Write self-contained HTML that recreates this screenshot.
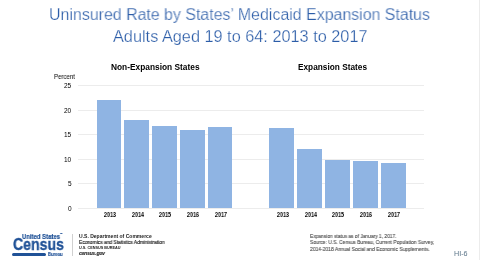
<!DOCTYPE html>
<html><head><meta charset="utf-8">
<style>
html,body{margin:0;padding:0;background:#fff;}
body{width:480px;height:260px;position:relative;overflow:hidden;font-family:"Liberation Sans",sans-serif;}
.a{position:absolute;white-space:nowrap;line-height:1;will-change:transform;}
.s{transform-origin:0 0;}
.title{color:#2C5DA8;font-size:15px;-webkit-text-stroke:0.25px #fff;}
.sub{font-weight:bold;color:#000;font-size:8px;}
.ax{color:#000;font-size:6.42px;}
.yl{right:408.4px;font-size:6.5px;margin-top:1px;}
.xl{font-weight:bold;color:#000;font-size:6.42px;top:211.86px;width:40px;text-align:center;transform:scaleX(0.84);}
.grid{position:absolute;left:78px;width:346px;height:1px;background:#ECECEC;}
.bar{position:absolute;background:#8FB4E3;}
.dept{color:#1a1a1a;}
.foot{color:#4a4a4a;font-size:5px;}
</style></head>
<body>
<div class="a s title" id="t1" style="left:48.86px;top:7.1px;font-size:16px;transform:scaleX(0.9954);">Uninsured Rate by States’ Medicaid Expansion Status</div>
<div class="a s title" id="t2" style="left:112.95px;top:28.5px;font-size:16px;transform:scaleX(1.0181);">Adults Aged 19 to 64: 2013 to 2017</div>

<div class="a s sub" id="s1" style="left:111.0px;top:63.6px;font-size:8.17px;transform:scaleX(1.023);">Non-Expansion States</div>
<div class="a s sub" id="s2" style="left:297.5px;top:63.6px;font-size:8.17px;transform:scaleX(1.0147);">Expansion States</div>

<div class="a s ax" id="pc" style="left:54.44px;top:73.56px;font-size:6.42px;transform:scaleX(0.9477);">Percent</div>

<div class="grid" style="top:85px"></div>
<div class="grid" style="top:110px"></div>
<div class="grid" style="top:134px"></div>
<div class="grid" style="top:159px"></div>
<div class="grid" style="top:183px"></div>
<div class="grid" style="top:208px"></div>

<div class="a ax yl" style="top:82.25px;">25</div>
<div class="a ax yl" style="top:106.75px;">20</div>
<div class="a ax yl" style="top:131.25px;">15</div>
<div class="a ax yl" style="top:155.75px;">10</div>
<div class="a ax yl" style="top:180.25px;">5</div>
<div class="a ax yl" style="top:205.25px;">0</div>

<div class="bar" style="left:96.5px;width:24.5px;top:100px;height:108px"></div>
<div class="bar" style="left:124.4px;width:24.6px;top:119.7px;height:88.3px"></div>
<div class="bar" style="left:152.2px;width:24.7px;top:125.6px;height:82.4px"></div>
<div class="bar" style="left:180px;width:24.7px;top:129.7px;height:78.3px"></div>
<div class="bar" style="left:207.8px;width:24.7px;top:126.6px;height:81.4px"></div>

<div class="bar" style="left:269.3px;width:25px;top:127.8px;height:80.2px"></div>
<div class="bar" style="left:297.3px;width:25px;top:149px;height:59px"></div>
<div class="bar" style="left:324.8px;width:25.4px;top:159.6px;height:48.4px"></div>
<div class="bar" style="left:352.8px;width:24.9px;top:161.2px;height:46.8px"></div>
<div class="bar" style="left:380.7px;width:25px;top:162.5px;height:45.5px"></div>

<div class="a xl" style="left:89.50px;">2013</div>
<div class="a xl" style="left:117.50px;">2014</div>
<div class="a xl" style="left:145.30px;">2015</div>
<div class="a xl" style="left:173.20px;">2016</div>
<div class="a xl" style="left:201.00px;">2017</div>
<div class="a xl" style="left:262.60px;">2013</div>
<div class="a xl" style="left:290.60px;">2014</div>
<div class="a xl" style="left:318.30px;">2015</div>
<div class="a xl" style="left:346.10px;">2016</div>
<div class="a xl" style="left:374.00px;">2017</div>

<!-- logo -->
<div class="a s" id="us" style="left:22.17px;top:233.0px;font-weight:bold;font-size:7.33px;color:#205297;-webkit-text-stroke:0.2px #205297;transform:scaleX(0.812);">United States<span style="font-size:3px;vertical-align:top">™</span></div>
<div class="a s" id="cen" style="left:12.53px;top:237.0px;font-weight:bold;font-size:16px;color:#205297;-webkit-text-stroke:0.35px #205297;transform:scaleX(0.8793);">Census</div>
<div class="a" style="left:12px;top:252.5px;width:34px;height:3px;border-radius:1.5px;background:#205297;"></div>
<div class="a s" id="bur" style="left:48.37px;top:252.12px;font-weight:bold;font-size:5.24px;color:#205297;-webkit-text-stroke:0.15px #205297;transform:scaleX(0.8139);">Bureau</div>

<div class="a" style="left:72px;top:233.5px;width:1px;height:22px;background:#D0D0D0;"></div>
<div class="a s dept" id="d1" style="left:79.0px;top:234.76px;font-weight:bold;font-size:4.89px;transform:scaleX(1.0321);">U.S. Department of Commerce</div>
<div class="a s dept" id="d2" style="left:79.0px;top:239.98px;font-size:5.1px;-webkit-text-stroke:0.15px #1a1a1a;transform:scaleX(0.9511);">Economics and Statistics Administration</div>
<div class="a s dept" id="d3" style="left:79.0px;top:247.1px;font-size:3.8px;font-weight:bold;transform:scaleX(0.9905);">U.S. CENSUS BUREAU</div>
<div class="a s dept" id="d4" style="left:79.0px;top:251.15px;font-weight:bold;font-style:italic;font-size:5.49px;-webkit-text-stroke:0.15px #1a1a1a;transform:scaleX(0.8583);">census.gov</div>

<div class="a s foot" id="f1" style="left:310.0px;top:233.57px;font-size:5.2px;-webkit-text-stroke:0.1px #4a4a4a;transform:scaleX(0.9375);">Expansion status as of January 1, 2017.</div>
<div class="a s foot" id="f2" style="left:310.0px;top:240.22px;font-size:5.2px;-webkit-text-stroke:0.1px #4a4a4a;transform:scaleX(0.9447);">Source: U.S. Census Bureau, Current Population Survey,</div>
<div class="a s foot" id="f3" style="left:310.0px;top:247.22px;font-size:5.2px;-webkit-text-stroke:0.1px #4a4a4a;transform:scaleX(0.9552);">2014-2018 Annual Social and Economic Supplements.</div>

<div class="a s" id="hi" style="left:454.0px;top:250.93px;font-size:6.63px;color:#5A7488;transform:scaleX(1.0833);">HI-6</div>

<div class="a" style="left:479px;top:0;width:1px;height:260px;background:#ECECEC;"></div>
</body></html>
